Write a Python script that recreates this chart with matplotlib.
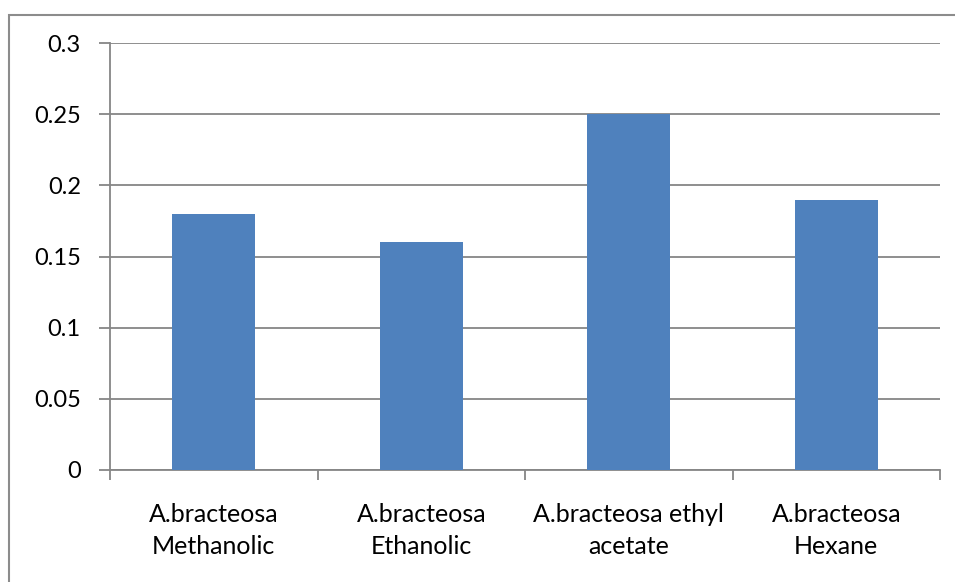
import matplotlib.pyplot as plt
from matplotlib.patches import Rectangle

plt.rcParams['font.family'] = ['Lato', 'DejaVu Sans']

categories = ['A.bracteosa\nMethanolic', 'A.bracteosa\nEthanolic',
              'A.bracteosa ethyl\nacetate', 'A.bracteosa\nHexane']
values = [0.18, 0.16, 0.25, 0.19]
yticks = [0, 0.05, 0.1, 0.15, 0.2, 0.25, 0.3]
ytick_labels = ['0', '0.05', '0.1', '0.15', '0.2', '0.25', '0.3']

grid_col = '#868686'
bar_col = '#4F81BD'

fig = plt.figure(figsize=(9.55, 5.82), dpi=100)
# chart area frame, open on the right and bottom
fig.add_artist(Rectangle((9 / 955, -0.05), 1.2, 1 - 15 / 582 + 0.05,
                         transform=fig.transFigure, fill=False,
                         edgecolor='#8c8c8c', linewidth=1.5))

ax = fig.add_axes([110 / 955, 1 - 470 / 582, 830 / 955, 427 / 582])
x = list(range(len(categories)))
ax.bar(x, values, width=0.4, color=bar_col, zorder=3)

ax.set_xlim(-0.5, len(categories) - 0.5)
ax.set_ylim(0, 0.3)
ax.set_yticks(yticks)
ax.set_yticklabels(ytick_labels, fontsize=17)
ax.yaxis.grid(True, color=grid_col, linewidth=1.3, zorder=0)

ax.set_xticks(x)
ax.set_xticklabels(categories, fontsize=18, linespacing=1.45)
ax.tick_params(axis='x', length=0, pad=24)
# category boundary ticks
ax.set_xticks([i - 0.5 for i in range(len(categories) + 1)], minor=True)
ax.tick_params(axis='x', which='minor', length=7, color=grid_col, width=1.3)
ax.tick_params(axis='y', length=8, color=grid_col, width=1.3, pad=13)

for side in ['top', 'right']:
    ax.spines[side].set_visible(False)
for side in ['left', 'bottom']:
    ax.spines[side].set_color(grid_col)
    ax.spines[side].set_linewidth(1.3)

fig.savefig('out.png', dpi=100)
